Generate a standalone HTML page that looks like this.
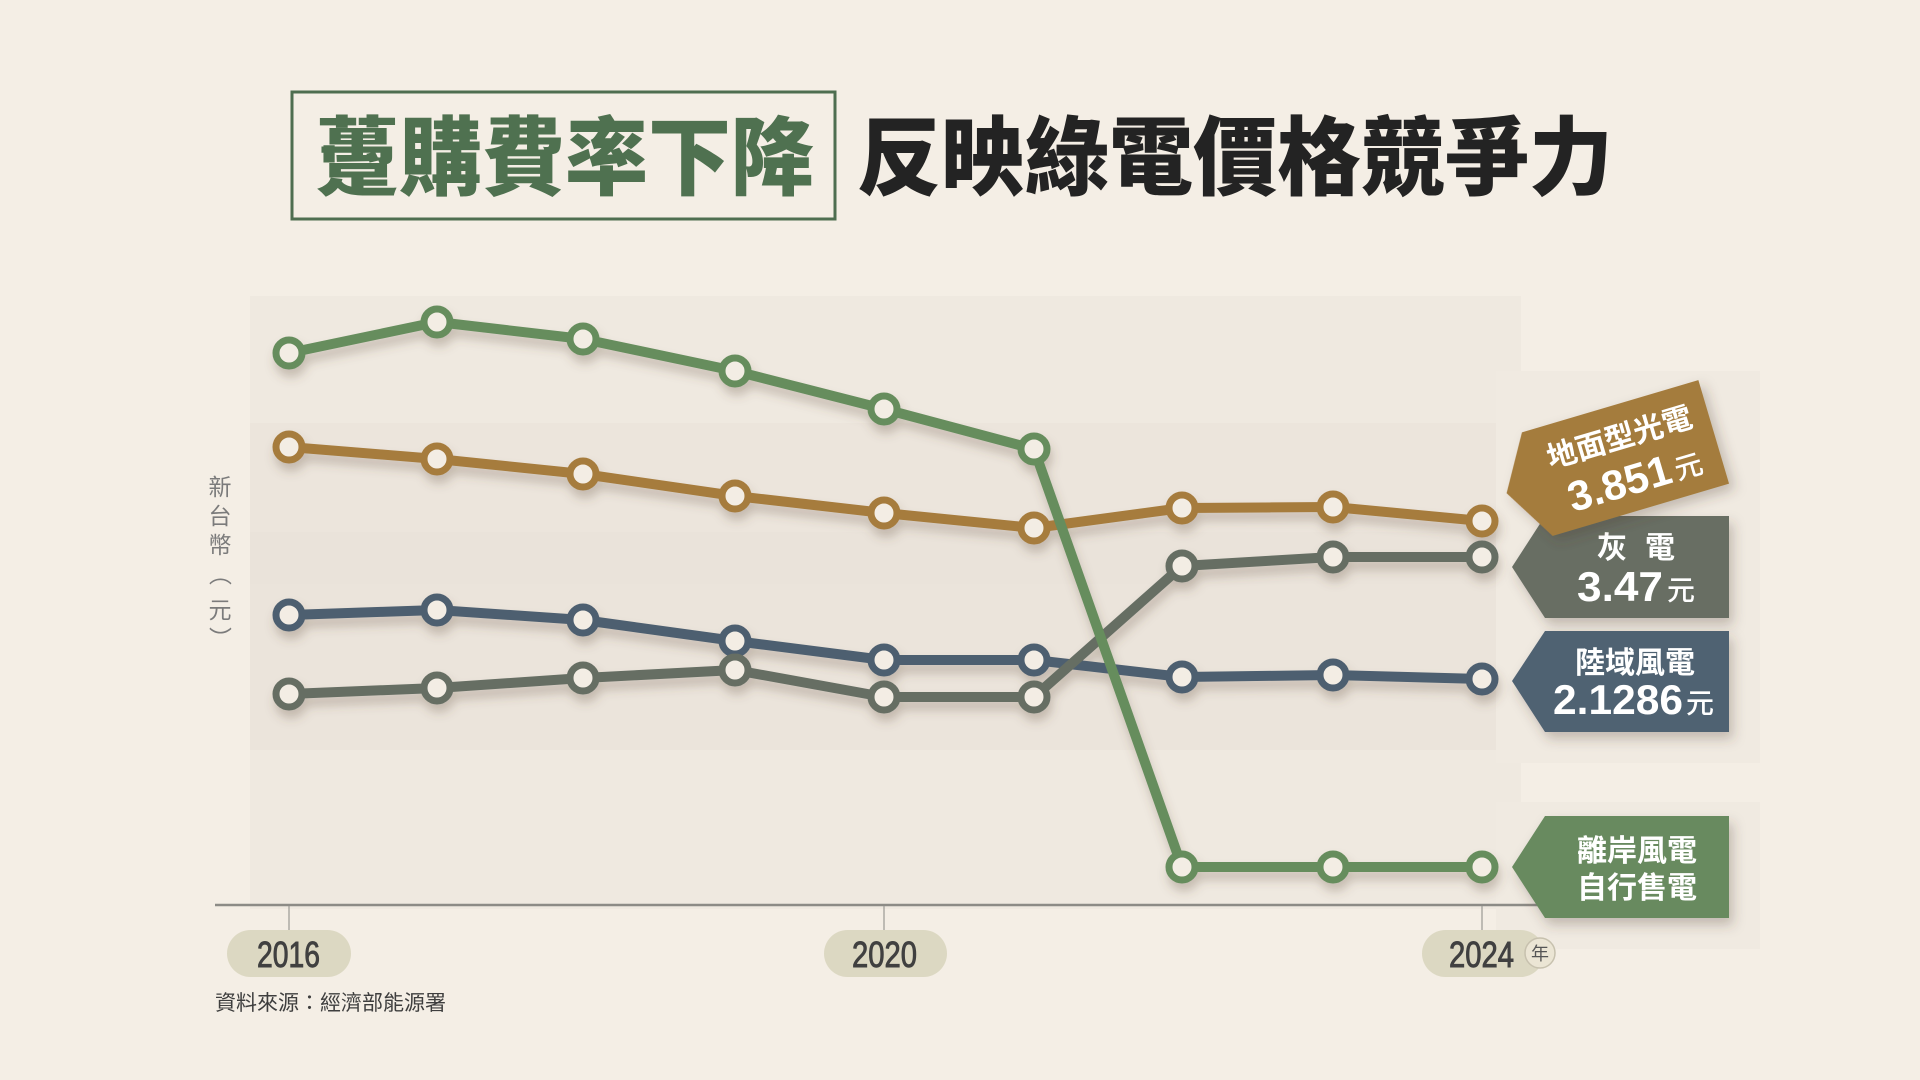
<!DOCTYPE html>
<html>
<head>
<meta charset="utf-8">
<style>
  html,body{margin:0;padding:0;background:#f4eee5;}
  body{width:1920px;height:1080px;overflow:hidden;position:relative;font-family:"Liberation Sans","Noto Sans CJK TC",sans-serif;}
  svg{position:absolute;left:0;top:0;}
</style>
</head>
<body>
<svg width="1920" height="1080" viewBox="0 0 1920 1080" xmlns="http://www.w3.org/2000/svg">
  <defs>
    <filter id="ls" x="-10%" y="-20%" width="120%" height="150%">
      <feDropShadow dx="2" dy="8" stdDeviation="5" flood-color="#5e4c38" flood-opacity="0.28"/>
    </filter>
    <filter id="ts" x="-20%" y="-20%" width="140%" height="160%">
      <feDropShadow dx="4" dy="7" stdDeviation="6" flood-color="#4a3b2a" flood-opacity="0.28"/>
    </filter>
  </defs>

  <!-- chart background panel -->
  <rect x="250" y="296" width="1271" height="613" fill="#efe9e0"/>
  <rect x="250" y="423" width="1271" height="109" fill="#ece5dc"/>
  <rect x="250" y="532" width="1271" height="52" fill="#eae3da"/>
  <rect x="250" y="584" width="1271" height="166" fill="#ebe4db"/>
  <!-- label panels -->
  <rect x="1496" y="371" width="264" height="392" fill="#f0eae1"/>
  <rect x="1496" y="802" width="264" height="147" fill="#f0eae1"/>

  <!-- Title -->
  <rect x="292" y="92" width="543" height="127" fill="none" stroke="#4e6e50" stroke-width="3"/>
  <text x="316" y="188" font-family="'Noto Sans CJK TC','Noto Sans CJK SC',sans-serif" font-weight="900" font-size="86" fill="#4f7150" textLength="498" lengthAdjust="spacingAndGlyphs">躉購費率下降</text>
  <text x="857" y="188" font-family="'Noto Sans CJK TC','Noto Sans CJK SC',sans-serif" font-weight="900" font-size="86" fill="#232323" textLength="756" lengthAdjust="spacingAndGlyphs">反映綠電價格競爭力</text>

  <!-- y label -->
  <g font-family="'Liberation Sans','Noto Sans CJK TC',sans-serif" font-size="23" fill="#7b7b7b" text-anchor="middle">
    <text x="220" y="495">新</text>
    <text x="220" y="524">台</text>
    <text x="220" y="553">幣</text>
    <text x="220" y="582" transform="rotate(90 220 574)">（</text>
    <text x="220" y="618">元</text>
    <text x="220" y="646" transform="rotate(90 220 638)">）</text>
  </g>

  <!-- axis -->
  <line x1="215" y1="905" x2="1545" y2="905" stroke="#8c8b86" stroke-width="2.5"/>
  <line x1="289" y1="906" x2="289" y2="932" stroke="#9a9994" stroke-width="1.2"/>
  <line x1="884" y1="906" x2="884" y2="932" stroke="#9a9994" stroke-width="1.2"/>
  <line x1="1482" y1="906" x2="1482" y2="932" stroke="#9a9994" stroke-width="1.2"/>

  <!-- x labels -->
  <g font-family="'Liberation Sans',sans-serif" font-size="36" fill="#404040" stroke="#404040" stroke-width="0.9">
  <rect x="227" y="930" width="124" height="47" rx="23.5" fill="#dcd8c2" stroke="none"/>
  <text x="257" y="967" textLength="63" lengthAdjust="spacingAndGlyphs">2016</text>
  <rect x="824" y="930" width="123" height="47" rx="23.5" fill="#dcd8c2" stroke="none"/>
  <text x="852" y="967" textLength="65" lengthAdjust="spacingAndGlyphs">2020</text>
  <rect x="1422" y="930" width="122" height="47" rx="23.5" fill="#dcd8c2" stroke="none"/>
  <text x="1449" y="967" textLength="65" lengthAdjust="spacingAndGlyphs">2024</text>
  </g>
  <circle cx="1540" cy="953" r="15" fill="#ebe5d4" stroke="#c7c1ae" stroke-width="1.5"/>
  <text x="1540" y="960" text-anchor="middle" font-family="'Noto Sans CJK TC',sans-serif" font-size="18" fill="#555">年</text>

  <!-- source -->
  <text x="215" y="1010" font-family="'Liberation Sans','Noto Sans CJK TC',sans-serif" font-size="21" fill="#3e3e3e">資料來源：經濟部能源署</text>

  <!-- series -->
  <g filter="url(#ls)" stroke-linejoin="round" stroke-linecap="round">
    <g>
      <polyline fill="none" stroke="#4e5f6f" stroke-width="10" points="289,615 437,610 583,620 735,641 884,660 1034,660 1182,677 1333,675 1482,679"/>
      <g fill="#f3ede4" stroke="#4e5f6f" stroke-width="7">
        <circle cx="289" cy="615" r="13"/><circle cx="437" cy="610" r="13"/><circle cx="583" cy="620" r="13"/>
        <circle cx="735" cy="641" r="13"/><circle cx="884" cy="660" r="13"/><circle cx="1034" cy="660" r="13"/>
        <circle cx="1182" cy="677" r="13"/><circle cx="1333" cy="675" r="13"/><circle cx="1482" cy="679" r="13"/>
      </g>
    </g>
    <g>
      <polyline fill="none" stroke="#666e64" stroke-width="10" points="289,694 437,688 583,678 735,670 884,697 1034,697 1182,566 1333,557 1482,557"/>
      <g fill="#f3ede4" stroke="#666e64" stroke-width="7">
        <circle cx="289" cy="694" r="13"/><circle cx="437" cy="688" r="13"/><circle cx="583" cy="678" r="13"/>
        <circle cx="735" cy="670" r="13"/><circle cx="884" cy="697" r="13"/><circle cx="1034" cy="697" r="13"/>
        <circle cx="1182" cy="566" r="13"/><circle cx="1333" cy="557" r="13"/><circle cx="1482" cy="557" r="13"/>
      </g>
    </g>
    <g>
      <polyline fill="none" stroke="#a67b3d" stroke-width="10" points="289,447 437,459 583,474 735,496 884,513 1034,528 1182,508 1333,507 1482,521"/>
      <g fill="#f3ede4" stroke="#a67b3d" stroke-width="7">
        <circle cx="289" cy="447" r="13"/><circle cx="437" cy="459" r="13"/><circle cx="583" cy="474" r="13"/>
        <circle cx="735" cy="496" r="13"/><circle cx="884" cy="513" r="13"/><circle cx="1034" cy="528" r="13"/>
        <circle cx="1182" cy="508" r="13"/><circle cx="1333" cy="507" r="13"/><circle cx="1482" cy="521" r="13"/>
      </g>
    </g>
    <g>
      <polyline fill="none" stroke="#668d5d" stroke-width="10" points="289,353 437,322 583,339 735,371 884,409 1034,449 1182,867 1333,867 1482,867"/>
      <g fill="#f3ede4" stroke="#668d5d" stroke-width="7">
        <circle cx="289" cy="353" r="13"/><circle cx="437" cy="322" r="13"/><circle cx="583" cy="339" r="13"/>
        <circle cx="735" cy="371" r="13"/><circle cx="884" cy="409" r="13"/><circle cx="1034" cy="449" r="13"/>
        <circle cx="1182" cy="867" r="13"/><circle cx="1333" cy="867" r="13"/><circle cx="1482" cy="867" r="13"/>
      </g>
    </g>
  </g>

  <!-- tags -->
  <g font-family="'Noto Sans CJK TC','Noto Sans CJK SC',sans-serif" font-weight="700" fill="#ffffff">
    <polygon filter="url(#ts)" points="1512,567 1545,516 1729,516 1729,618 1545,618" fill="#676e64"/>
    <text x="1612" y="558" text-anchor="middle" font-size="30" fill="#fff">灰</text>
    <text x="1660" y="558" text-anchor="middle" font-size="30" fill="#fff">電</text>
    <text x="1577" y="601" font-family="'Liberation Sans',sans-serif" font-weight="700" font-size="42" fill="#fff" textLength="86" lengthAdjust="spacingAndGlyphs">3.47</text>
    <text x="1667" y="600" font-size="28" font-weight="500" fill="#fff">元</text>

    <polygon filter="url(#ts)" points="1512,681 1545,631 1729,631 1729,732 1545,732" fill="#4f6272"/>
    <text x="1635" y="673" text-anchor="middle" font-size="30" fill="#fff">陸域風電</text>
    <text x="1553" y="714" font-family="'Liberation Sans',sans-serif" font-weight="700" font-size="42" fill="#fff" textLength="130" lengthAdjust="spacingAndGlyphs">2.1286</text>
    <text x="1686" y="713" font-size="28" font-weight="500" fill="#fff">元</text>

    <polygon filter="url(#ts)" points="1512,867 1545,816 1729,816 1729,918 1545,918" fill="#678a5e"/>
    <text x="1637" y="861" text-anchor="middle" font-size="30" fill="#fff">離岸風電</text>
    <text x="1637" y="898" text-anchor="middle" font-size="30" fill="#fff">自行售電</text>

    <g transform="translate(1625.5,458) rotate(-16.5)">
      <polygon filter="url(#ts)" points="-124,0 -92,-54 92,-54 92,54 -92,54" fill="#a47b3d"/>
      <text x="0" y="-11" text-anchor="middle" font-size="30" fill="#fff">地面型光電</text>
      <text x="-66" y="37" font-family="'Liberation Sans',sans-serif" font-weight="700" font-size="42" fill="#fff" textLength="106" lengthAdjust="spacingAndGlyphs">3.851</text>
      <text x="44" y="36" font-size="28" font-weight="500" fill="#fff">元</text>
    </g>
  </g>
</svg>
</body>
</html>
